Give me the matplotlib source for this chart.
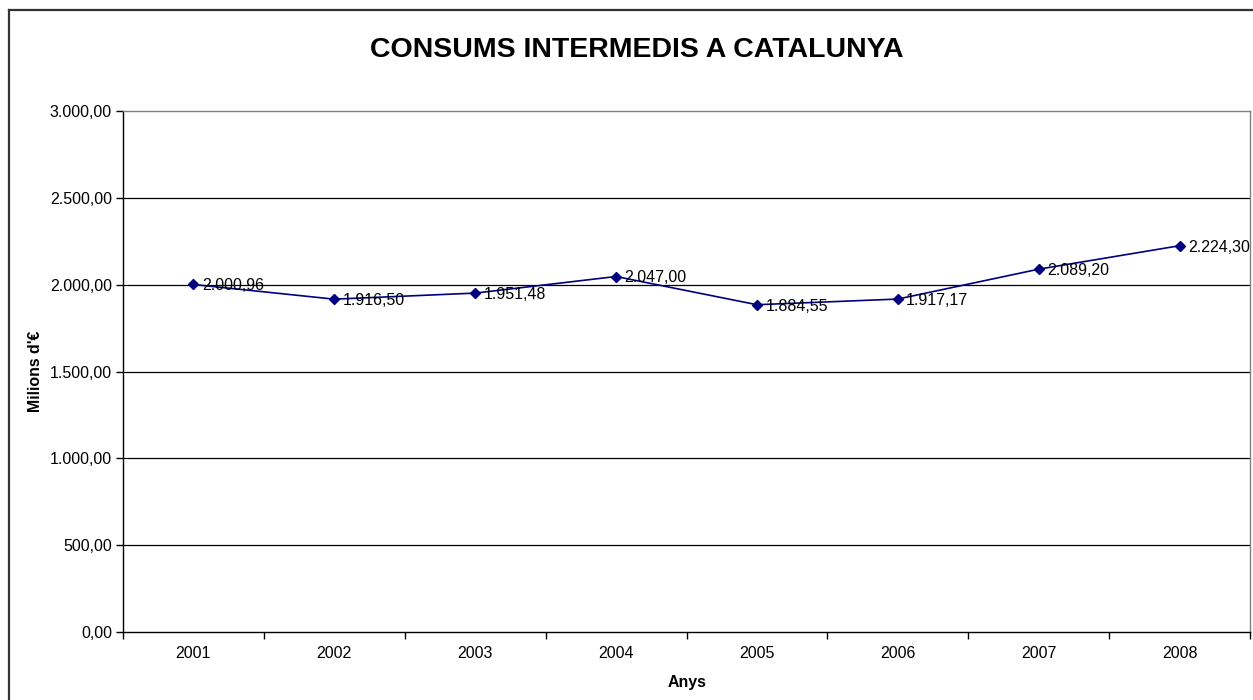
import matplotlib
matplotlib.use("Agg")
import matplotlib.pyplot as plt
from matplotlib.lines import Line2D
from matplotlib.ticker import FuncFormatter, NullFormatter

years = ["2001", "2002", "2003", "2004", "2005", "2006", "2007", "2008"]
values = [2000.96, 1916.50, 1951.48, 2047.00, 1884.55, 1917.17, 2089.20, 2224.30]
yticks = [0, 500, 1000, 1500, 2000, 2500, 3000]

plt.rcParams['font.family'] = ['Liberation Sans', 'DejaVu Sans']

def fmt(v, pos=None):
    s = f"{v:,.2f}"
    return s.replace(",", "X").replace(".", ",").replace("X", ".")

W, H = 1253, 700
fig = plt.figure(figsize=(W / 100, H / 100), dpi=100)
ax = fig.add_axes([123 / W, (H - 632) / H, (1250 - 123) / W, (632 - 111) / H])

x = list(range(len(years)))
ax.plot(x, values, color='#000080', lw=1.2, marker='D', markersize=5.5, zorder=3)
for xi, v in zip(x, values):
    ax.annotate(fmt(v), (xi, v), xytext=(6, -1), textcoords='offset points',
                va='center', ha='left', fontsize=11.5, color='black', zorder=4,
                annotation_clip=False)

ax.set_xlim(-0.5, len(years) - 0.5)
ax.set_ylim(0, 3000)
ax.set_yticks(yticks)
ax.yaxis.set_major_formatter(FuncFormatter(fmt))
ax.set_xticks([i + 0.5 for i in range(-1, len(years))])
ax.xaxis.set_major_formatter(NullFormatter())
ax.set_xticks(x, minor=True)
ax.set_xticklabels(years, minor=True)
ax.tick_params(axis='x', which='minor', length=0, pad=10, labelsize=11.5)
ax.tick_params(axis='x', which='major', length=5, direction='out', width=1)
ax.tick_params(axis='y', length=5, direction='out', width=1, labelsize=11.5, pad=3)

for yv in yticks[1:-1]:
    ax.axhline(yv, color='black', lw=0.9, zorder=1)

ax.spines['top'].set_color('#808080')
ax.spines['right'].set_color('#808080')
ax.spines['left'].set_color('black')
ax.spines['bottom'].set_color('black')
for s in ax.spines.values():
    s.set_linewidth(1.0)

ax.set_ylabel("Milions d'€", fontsize=11.4, fontweight='bold')
ax.set_xlabel("Anys", fontsize=11.4, fontweight='bold')
ax.yaxis.set_label_coords((35 - 123) / (1250 - 123), 0.5)
ax.xaxis.set_label_coords((687 - 123) / (1250 - 123), -(682 - 632) / (632 - 111))
ax.xaxis.label.set_va('center')
ax.yaxis.label.set_va('center')

fig.text(637 / W, (H - 50) / H, "CONSUMS INTERMEDIS A CATALUNYA",
         ha='center', va='center', fontsize=20.5, fontweight='bold')

# outer chart border
fig.add_artist(Line2D([8.5 / W, 8.5 / W], [0, (H - 10) / H], color='#333333', lw=1.6, transform=fig.transFigure))
fig.add_artist(Line2D([8.5 / W, 1], [(H - 10) / H, (H - 10) / H], color='#333333', lw=1.6, transform=fig.transFigure))

fig.savefig("out.png", dpi=100)
